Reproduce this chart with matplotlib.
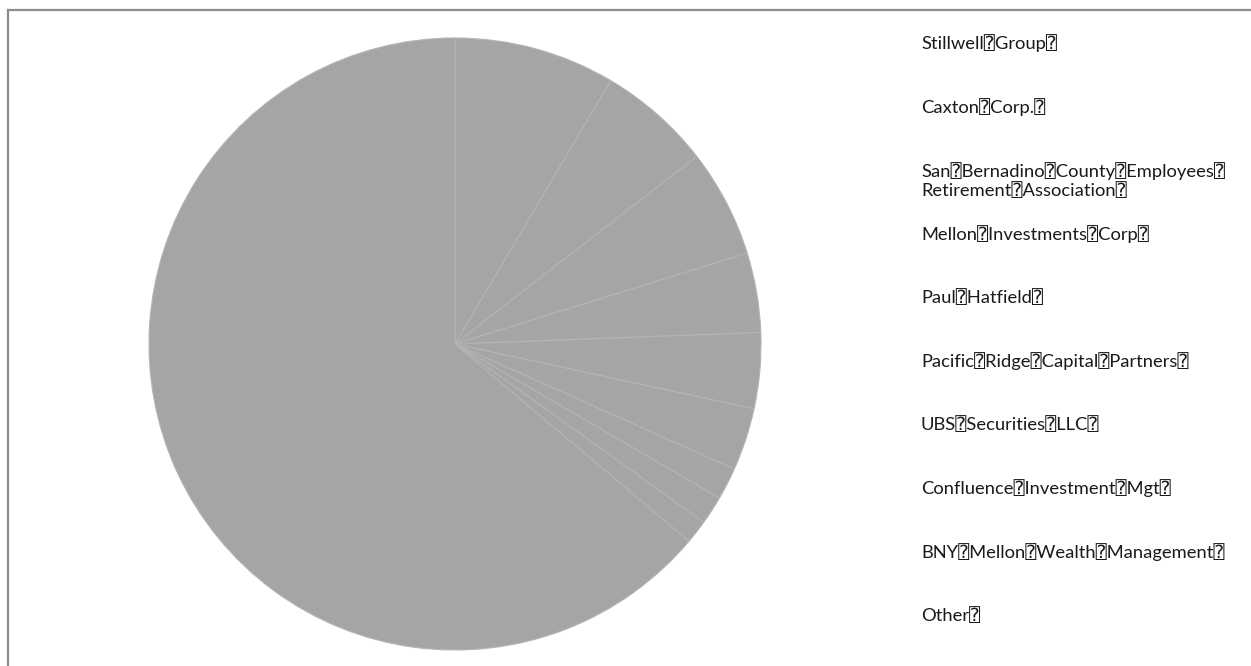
import matplotlib
matplotlib.use("Agg")
import matplotlib.pyplot as plt
from matplotlib.lines import Line2D

# holders and their share (%)
holders = [
    "Stillwell Group",
    "Caxton Corp.",
    "San Bernadino County Employees\nRetirement Association",
    "Mellon Investments Corp",
    "Paul Hatfield",
    "Pacific Ridge Capital Partners",
    "UBS Securities LLC",
    "Confluence Investment Mgt",
    "BNY Mellon Wealth Management",
    "Other",
]
shares = [8.5, 6.0, 5.7, 4.2, 4.0, 3.3, 1.7, 1.5, 1.25, 63.85]

BOX = "\u2370"  # missing-glyph box as it shows in the source
labels = [h.replace(" ", BOX).replace("\n", BOX + "\n") + BOX for h in holders]

W, H = 1251, 666
fig = plt.figure(figsize=(W / 100, H / 100), dpi=100)

# pie: centre (455, 344) px, radius 306 px
cx, cy, r = 455, 344, 306
ax = fig.add_axes([(cx - r) / W, (H - cy - r) / H, 2 * r / W, 2 * r / H])
ax.pie(shares, startangle=90, counterclock=False, colors=["#a5a5a5"] * len(shares),
       wedgeprops=dict(edgecolor="#b4b4b4", linewidth=0.8))
ax.set_xlim(-1, 1)
ax.set_ylim(-1, 1)
ax.set_aspect("equal")
ax.axis("off")

# labels on the right, evenly spaced rows
y0, dy = 43, 63.6
for i, lab in enumerate(labels):
    yy = y0 + i * dy + (10 if "\n" in lab else 0)
    fig.text(921 / W, 1 - yy / H, lab, ha="left", va="center",
             fontsize=13.2, color="#1a1a1a", linespacing=1.15,
             family=["Lato", "DejaVu Sans", "DejaVu Sans Mono"])

# outer frame (runs off the right and bottom edges)
fc = "#8c8c8c"
fig.add_artist(Line2D([8 / W, 1.0], [1 - 10 / H, 1 - 10 / H], color=fc, lw=1.6,
                      transform=fig.transFigure))
fig.add_artist(Line2D([8 / W, 8 / W], [1 - 10 / H, 0.0], color=fc, lw=1.6,
                      transform=fig.transFigure))

fig.savefig("out.png", dpi=100)
